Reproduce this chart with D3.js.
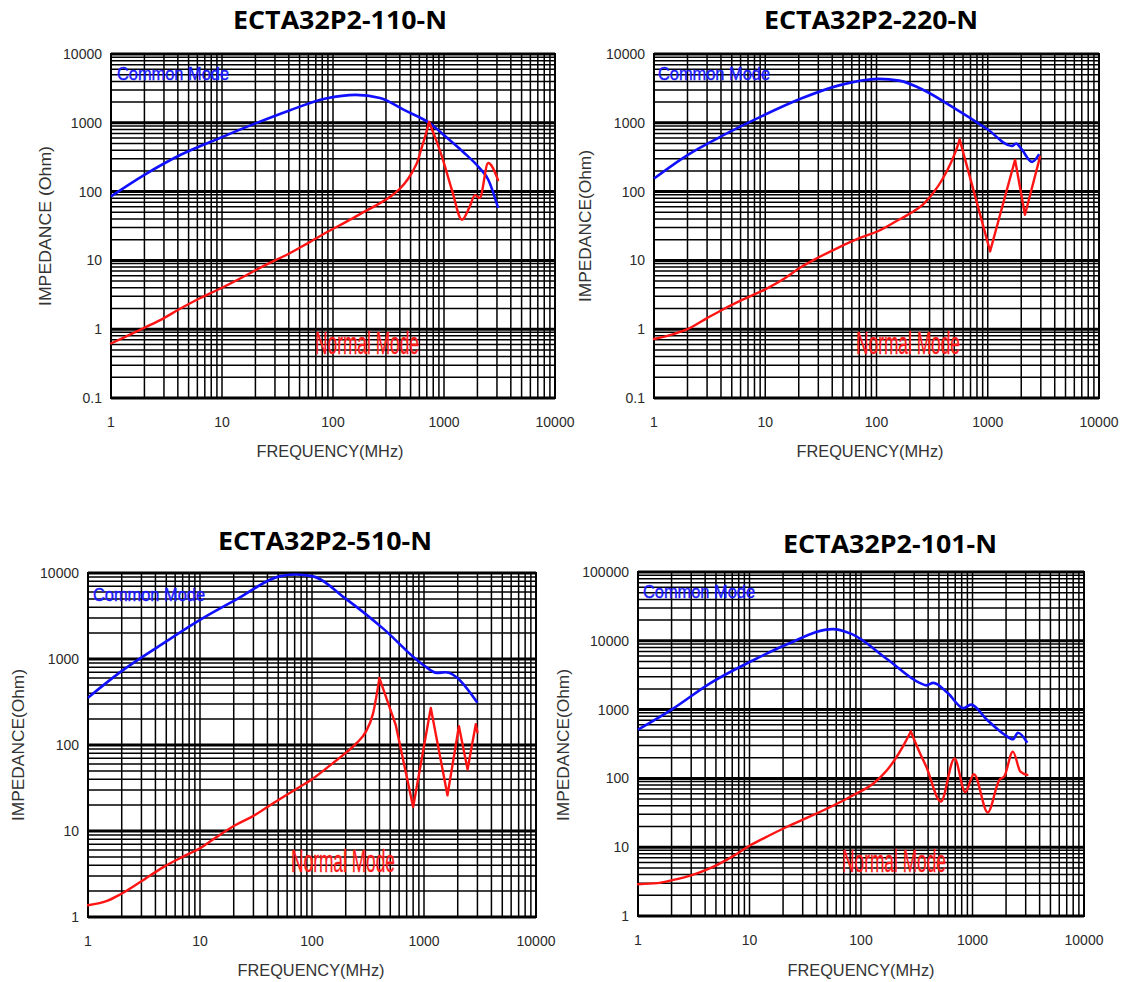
<!DOCTYPE html>
<html>
<head>
<meta charset="utf-8">
<script src="https://d3js.org/d3.v7.min.js"></script>
<style>
    body { margin: 0; background: #fff; }
    svg { display: block; }
    .tick-label { font-family: "Liberation Sans", Arial, sans-serif; font-size: 14px; fill: #2a2a2a; }
    .axis-title { font-family: "Liberation Sans", Arial, sans-serif; font-size: 17px; fill: #333; }
    .title { font-family: "Open Sans", sans-serif; font-weight: 700; font-size: 25px; fill: #000; }
</style>
</head>
<body>
<script>
// ---- data (frequency in MHz, impedance in Ohm) ----
const titles = ['ECTA32P2-110-N', 'ECTA32P2-220-N', 'ECTA32P2-510-N', 'ECTA32P2-101-N']
const yLabels = ['IMPEDANCE (Ohm)', 'IMPEDANCE(Ohm)', 'IMPEDANCE(Ohm)', 'IMPEDANCE(Ohm)']
const xTicks = [1, 10, 100, 1000, 10000]
const yTicksA = [0.1, 1, 10, 100, 1000, 10000]
const yTicksB = [1, 10, 100, 1000, 10000]
const yTicksC = [1, 10, 100, 1000, 10000, 100000]

// ECTA32P2-110-N
const cmF110 = [1, 2, 4.2, 10, 20, 40, 86, 160, 265, 450, 733, 1070, 1480, 2100, 2500, 3070]
const cmZ110 = [85, 175, 340, 620, 980, 1500, 2250, 2550, 2300, 1500, 1000, 600, 380, 218, 150, 58]
const nmF110 = [1, 1.5, 2, 3, 4, 6, 10, 15, 20, 30, 40, 60, 93, 130, 183, 265, 330, 400, 470, 525, 580, 620, 680, 733,
    850, 960, 1180, 1450, 1700, 1900, 2100, 2500, 3070]
const nmZ110 = [0.62, 0.84, 1.05, 1.45, 1.9, 2.7, 4.0, 5.6, 7.2, 10, 12.5, 18, 27, 36, 49, 68, 85, 110, 150, 200, 280, 400, 650, 1030,
    560, 320, 105, 39, 60, 89, 81, 260, 147]

// ECTA32P2-220-N
const cmF220 = [1, 2, 4.2, 10, 21, 46, 105, 160, 270, 480, 1000, 1650, 1800, 2000, 2500, 2900]
const cmZ220 = [155, 340, 660, 1320, 2250, 3500, 4350, 4100, 2950, 1700, 800, 460, 500, 420, 270, 350]
const nmF220 = [1, 1.5, 2, 3, 4.2, 6, 10, 15, 21, 30, 46, 70, 105, 150, 200, 270, 330, 390, 470, 520, 560,
    1050, 1760, 2160, 2950]
const nmZ220 = [0.72, 0.85, 1.0, 1.45, 1.95, 2.6, 3.8, 5.5, 8, 11, 15.5, 21, 27, 37, 48, 68, 100, 150, 270, 400, 570,
    13.5, 290, 46, 320]

// ECTA32P2-510-N
const cmF510 = [1, 1.9, 4.7, 10, 21, 52, 71, 100, 205, 435, 1000, 1300, 1550, 3000]
const cmZ510 = [355, 690, 1520, 2850, 4900, 9200, 9600, 9200, 4900, 2240, 840, 690, 700, 310]
const nmF510 = [1, 1.5, 1.9, 3, 4.7, 7, 10, 15, 21, 30, 45, 70, 100, 150, 205, 250, 300, 350, 400,
    560, 800, 1150, 1620, 2050, 2450, 2900, 3000]
const nmZ510 = [1.37, 1.55, 1.8, 2.6, 3.8, 5, 6.3, 9, 11.8, 15, 21, 30, 40, 60, 83, 105, 140, 230, 600,
    170, 19, 270, 26, 165, 52, 175, 140]

// ECTA32P2-101-N
const cmF101 = [1, 2, 4.5, 10, 22, 56, 83, 172, 335, 385, 445, 600, 830, 970, 1340, 1930, 2300, 2560, 3100]
const cmZ101 = [510, 1000, 2450, 4900, 9000, 14800, 12500, 5400, 2450, 2250, 2450, 1740, 1050, 1180, 720, 435, 370, 460, 330]
const nmF101 = [1, 1.5, 2, 3, 4.5, 7, 10, 15, 22, 35, 56, 85, 130, 170, 200, 240, 280, 335, 385, 520, 690, 860, 1030,
    1370, 1740, 1930, 2300, 2690, 3100]
const nmZ101 = [2.9, 3.0, 3.3, 3.9, 5, 7.3, 10.5, 14.8, 20, 28, 40, 57, 85, 130, 185, 300, 480, 240, 148, 46, 195, 63, 115,
    32, 95, 107, 245, 125, 112]

// ---- layout of the four panels ----
const panels = [
    { box: [111, 54, 555, 398], yTicks: yTicksA, cm: [cmF110, cmZ110], nm: [nmF110, nmZ110],
      titleX: 340, titleY: 29, xTitle: [330, 457], yTitle: [45, 226],
      cmLab: [117, 80], nmLab: [315, 354], osc: d3.curveMonotoneX },
    { box: [654, 54, 1099, 398], yTicks: yTicksA, cm: [cmF220, cmZ220], nm: [nmF220, nmZ220],
      titleX: 871, titleY: 29, xTitle: [870, 457], yTitle: [585, 226],
      cmLab: [658, 80], nmLab: [856, 354], osc: d3.curveLinear },
    { box: [88, 573, 536, 917], yTicks: yTicksB, cm: [cmF510, cmZ510], nm: [nmF510, nmZ510],
      titleX: 325, titleY: 550, xTitle: [311, 976], yTitle: [18, 745],
      cmLab: [93, 601], nmLab: [291, 872], osc: d3.curveLinear },
    { box: [638, 572, 1084, 916], yTicks: yTicksC, cm: [cmF101, cmZ101], nm: [nmF101, nmZ101],
      titleX: 890, titleY: 553, xTitle: [861, 976], yTitle: [563, 745],
      cmLab: [643, 598], nmLab: [842, 872], osc: d3.curveMonotoneX }
]

const svg = d3.select('body').append('svg')
    .attr('width', 1125)
    .attr('height', 982)

panels.forEach((p, i) => {
    const [x0, y0, x1, y1] = p.box
    const yt = p.yTicks
    const x = d3.scaleLog().domain([1, 10000]).range([x0, x1])
    const y = d3.scaleLog().domain([yt[0], yt[yt.length - 1]]).range([y1, y0])
    const g = svg.append('g')

    // grid
    const isDecade = v => Math.abs(Math.log10(v) - Math.round(Math.log10(v))) < 1e-6
    g.selectAll('.vgrid').data(x.ticks()).enter().append('line')
        .attr('x1', d => x(d)).attr('x2', d => x(d))
        .attr('y1', y0).attr('y2', y1)
        .attr('stroke', '#000').attr('stroke-width', 1.5)
    g.selectAll('.hgrid').data(y.ticks()).enter().append('line')
        .attr('y1', d => y(d)).attr('y2', d => y(d))
        .attr('x1', x0).attr('x2', x1)
        .attr('stroke', '#000')
        .attr('stroke-width', d => isDecade(d) ? 3 : 1.5)
    g.append('rect')
        .attr('x', x0).attr('y', y0)
        .attr('width', x1 - x0).attr('height', y1 - y0)
        .attr('fill', 'none').attr('stroke', '#000').attr('stroke-width', 2)

    // tick labels
    g.selectAll('.xl').data(xTicks).enter().append('text')
        .attr('class', 'tick-label')
        .attr('x', d => x(d)).attr('y', y1 + 29)
        .attr('text-anchor', 'middle')
        .text(d => d)
    g.selectAll('.yl').data(yt).enter().append('text')
        .attr('class', 'tick-label')
        .attr('x', x0 - 9).attr('y', d => y(d) + 5)
        .attr('text-anchor', 'end')
        .text(d => d)

    // axis titles
    g.append('text').attr('class', 'axis-title')
        .attr('x', p.xTitle[0]).attr('y', p.xTitle[1])
        .attr('text-anchor', 'middle')
        .attr('textLength', 147).attr('lengthAdjust', 'spacingAndGlyphs')
        .text('FREQUENCY(MHz)')
    g.append('text').attr('class', 'axis-title')
        .attr('transform', 'translate(' + (p.yTitle[0] + 6) + ',' + p.yTitle[1] + ') rotate(-90)')
        .attr('text-anchor', 'middle')
        .attr('textLength', i == 0 ? 160 : 152).attr('lengthAdjust', 'spacingAndGlyphs')
        .text(yLabels[i])

    // title
    svg.append('text').attr('class', 'title')
        .attr('x', p.titleX).attr('y', p.titleY)
        .attr('text-anchor', 'middle')
        .attr('textLength', 214).attr('lengthAdjust', 'spacingAndGlyphs')
        .text(titles[i])

    // mode labels
    g.append('text')
        .attr('x', p.cmLab[0]).attr('y', p.cmLab[1])
        .attr('textLength', 112).attr('lengthAdjust', 'spacingAndGlyphs')
        .style('font-family', '"Liberation Sans", Arial, sans-serif')
        .style('font-size', '18px').style('fill', '#1a1aff')
        .style('stroke', '#1a1aff').style('stroke-width', 0.4)
        .text('Common Mode')
    g.append('text')
        .attr('x', p.nmLab[0]).attr('y', p.nmLab[1])
        .attr('textLength', 104).attr('lengthAdjust', 'spacingAndGlyphs')
        .style('font-family', '"Liberation Sans", Arial, sans-serif')
        .style('font-size', '31px').style('fill', '#ff1a1a')
        .style('stroke', '#ff1a1a').style('stroke-width', 0.3)
        .text('Normal Mode')

    // curves
    const line = curve => d3.line()
        .x(d => x(d[0]))
        .y(d => y(d[1]))
        .curve(curve)
    const cmData = p.cm[0].map((f, k) => [f, p.cm[1][k]])
    const nmData = p.nm[0].map((f, k) => [f, p.nm[1][k]])
    // normal mode: smooth rise up to the main resonance, then the ringing part
    const peak = d3.maxIndex(nmData, d => d[1])
    g.append('path').datum(cmData)
        .attr('d', line(d3.curveMonotoneX)).attr('fill', 'none')
        .attr('stroke', '#1010ff').attr('stroke-width', 2.6)
    g.append('path').datum(nmData.slice(0, peak + 1))
        .attr('d', line(d3.curveMonotoneX)).attr('fill', 'none')
        .attr('stroke', '#ff1414').attr('stroke-width', 2.4)
        .attr('stroke-linecap', 'round')
    g.append('path').datum(nmData.slice(peak))
        .attr('d', line(p.osc)).attr('fill', 'none')
        .attr('stroke', '#ff1414').attr('stroke-width', 2.4)
        .attr('stroke-linejoin', 'round').attr('stroke-linecap', 'round')
})
</script>
</body>
</html>
